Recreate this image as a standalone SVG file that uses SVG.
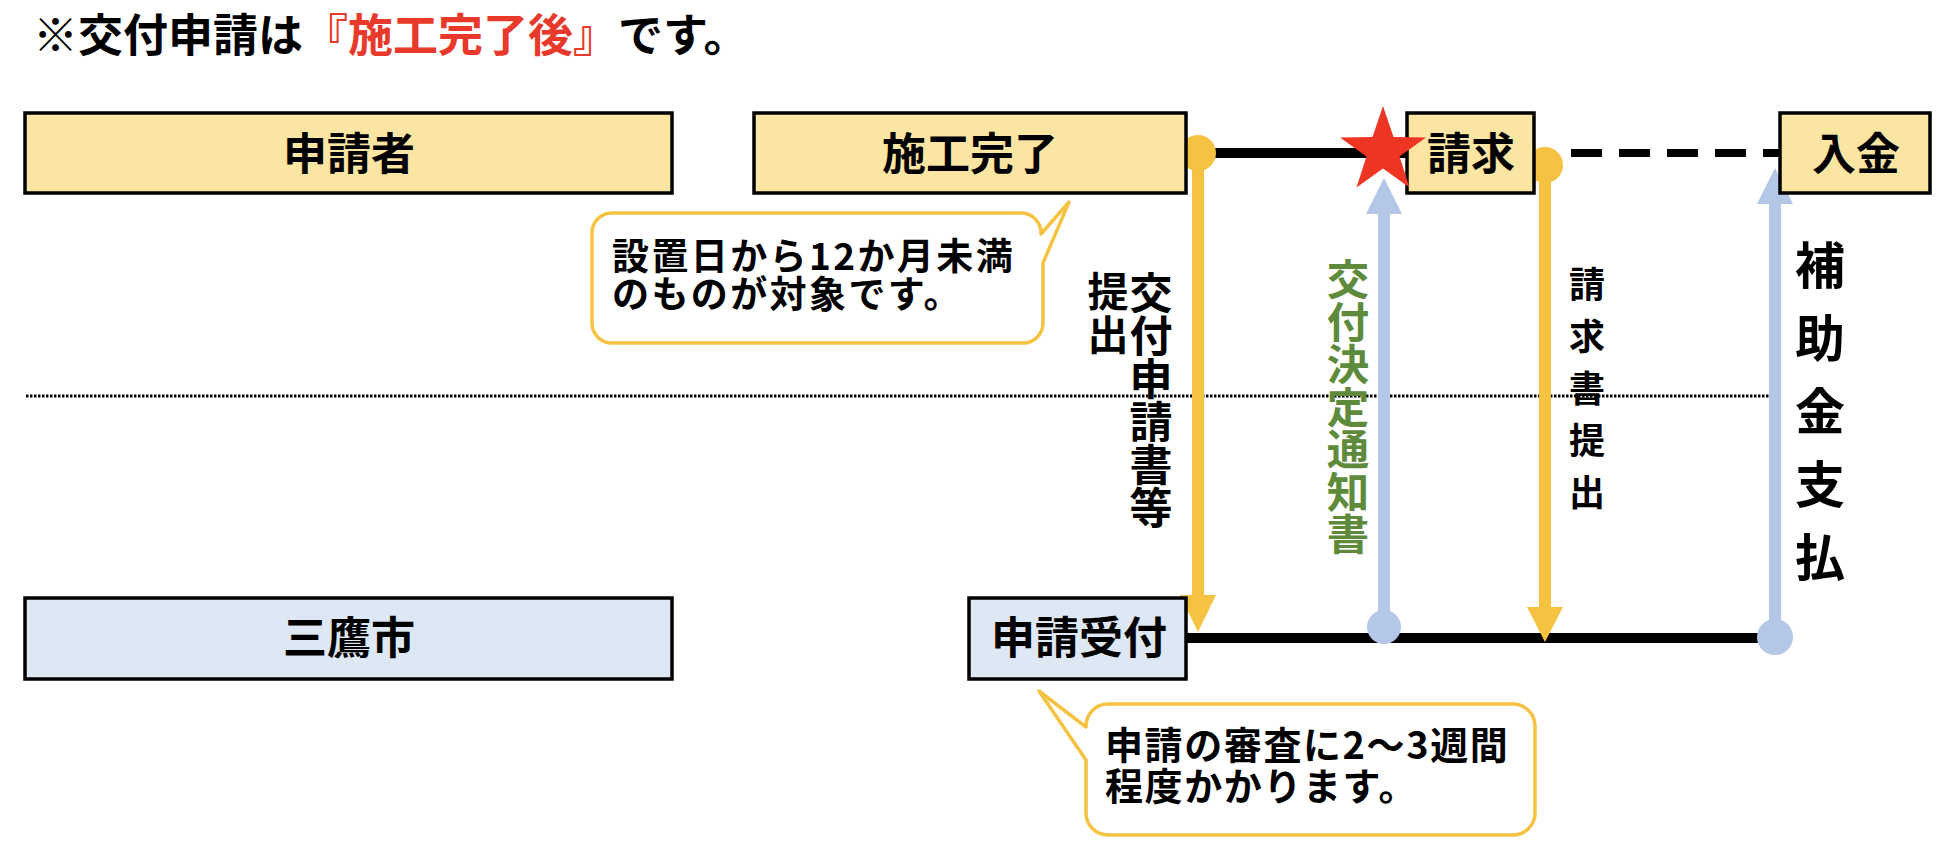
<svg xmlns="http://www.w3.org/2000/svg" width="1944" height="852" viewBox="0 0 1944 852">
<style>
  text { font-family: "Noto Sans CJK JP", "Liberation Sans", sans-serif; font-weight: bold; fill: #000; }
  .box-y { fill: #FBE5A3; stroke: #000; stroke-width: 3.5; }
  .box-b { fill: #DEE7F4; stroke: #000; stroke-width: 3.5; }
  .lbl { font-size: 44px; text-anchor: middle; }
  .bubble { fill: #fff; stroke: #F5C242; stroke-width: 3.5; stroke-linejoin: round; }
  .vt { writing-mode: vertical-rl; text-anchor: start; }
  .yel { fill: #F5C242; }
  .blu { fill: #B4C7E7; }
</style>
<rect width="1944" height="852" fill="#fff"/>

<g id="title">
  <text x="33" y="52" font-size="45">※交付申請は<tspan fill="#E8392B">『施工完了後』</tspan>です。</text>
</g>

<g id="lane-divider">
  <line x1="26" y1="396" x2="1775" y2="396" stroke="#000" stroke-width="3" stroke-dasharray="2.5 1.5"/>
</g>

<g id="connectors">
  <line x1="1198" y1="153" x2="1407" y2="153" stroke="#000" stroke-width="10"/>
  <line x1="1571" y1="153" x2="1781" y2="153" stroke="#000" stroke-width="8" stroke-dasharray="31 17"/>
  <line x1="1186" y1="638" x2="1775" y2="638" stroke="#000" stroke-width="10"/>
  <!-- 交付申請書等提出 -->
  <rect class="yel" x="1192" y="153" width="12" height="443"/>
  <polygon class="yel" points="1180,595 1216,595 1198,632"/>
  <circle class="yel" cx="1198" cy="153" r="18"/>
  <!-- 交付決定通知書 -->
  <rect class="blu" x="1378" y="213" width="12" height="414"/>
  <polygon class="blu" points="1366,214 1402,214 1384,178"/>
  <circle class="blu" cx="1384" cy="627" r="17"/>
  <!-- 請求書提出 -->
  <rect class="yel" x="1539" y="165" width="12" height="443"/>
  <polygon class="yel" points="1527,607 1563,607 1545,642"/>
  <circle class="yel" cx="1545" cy="165" r="18"/>
  <!-- 補助金支払 -->
  <rect class="blu" x="1769" y="203" width="12" height="434"/>
  <polygon class="blu" points="1757,204 1793,204 1775,168"/>
  <circle class="blu" cx="1775" cy="637" r="18"/>
</g>

<g id="node-applicant">
  <rect class="box-y" x="25" y="113" width="647" height="80"/>
  <text class="lbl" x="349" y="170">申請者</text>
</g>
<g id="node-complete">
  <rect class="box-y" x="754" y="113" width="432" height="80"/>
  <text class="lbl" x="970" y="170">施工完了</text>
</g>
<g id="node-claim">
  <rect class="box-y" x="1407" y="113" width="127" height="80"/>
  <text class="lbl" x="1471" y="170">請求</text>
</g>
<g id="node-payment">
  <rect class="box-y" x="1780" y="113" width="150" height="80"/>
  <text class="lbl" x="1856" y="170">入金</text>
</g>
<g id="node-mitaka">
  <rect class="box-b" x="25" y="598" width="647" height="81"/>
  <text class="lbl" x="349" y="654">三鷹市</text>
</g>
<g id="node-accept">
  <rect class="box-b" x="969" y="598" width="217" height="81"/>
  <text class="lbl" x="1079" y="654">申請受付</text>
</g>

<g id="star">
  <polygon fill="#EE3524" points="1383,106 1393.5,137 1426,137.4 1399.5,156.5 1409.5,187.5 1383,168.5 1356.5,187.5 1366.5,156.5 1340,137.4 1372.5,137"/>
</g>

<g id="label-submit">
  <text class="vt" x="1151" y="271" font-size="43">交付申請書等</text>
  <text class="vt" x="1108" y="271" font-size="41" letter-spacing="2">提出</text>
</g>
<g id="label-decision">
  <text class="vt" x="1348" y="258" font-size="42.5" style="fill:#5E8A3C">交付決定通知書</text>
</g>
<g id="label-claim">
  <text class="vt" x="1587" y="266" font-size="36" letter-spacing="16">請求書提出</text>
</g>
<g id="label-payment">
  <text class="vt" x="1820" y="240" font-size="50" letter-spacing="23">補助金支払</text>
</g>

<g id="callout-period">
  <path class="bubble" d="M612,213 H1022 A20,20 0 0 1 1041,234 L1069,202 L1043,263 V323 A20,20 0 0 1 1023,343 H612 A20,20 0 0 1 592,323 V233 A20,20 0 0 1 612,213 Z"/>
  <text font-size="37" letter-spacing="2.4"><tspan x="612" y="270">設置日から12か月未満</tspan><tspan x="612" y="308">のものが対象です。</tspan></text>
</g>

<g id="callout-review">
  <path class="bubble" d="M1108,704 H1513 A22,22 0 0 1 1535,726 V813 A22,22 0 0 1 1513,835 H1108 A22,22 0 0 1 1086,813 V760 L1039,691 L1086,727 V726 A22,22 0 0 1 1108,704 Z"/>
  <text font-size="38" letter-spacing="1.6"><tspan x="1105" y="759">申請の審査に2～3週間</tspan><tspan x="1105" y="800">程度かかります。</tspan></text>
</g>
</svg>
